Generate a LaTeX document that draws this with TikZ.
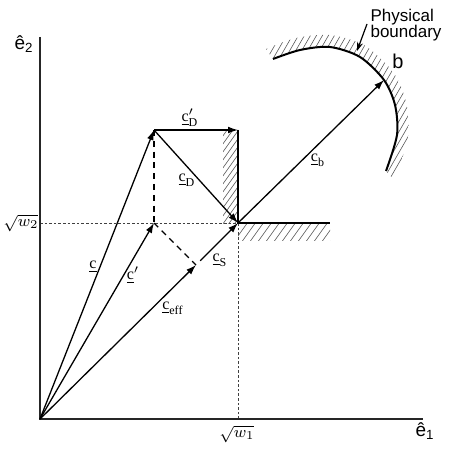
\documentclass[tikz,border=0pt]{standalone}
\usepackage{fontspec}
\setmainfont{Liberation Serif}
\newfontfamily\lsans{Liberation Sans}
\usetikzlibrary{arrows.meta}
\begin{document}
\begin{tikzpicture}[x=0.5pt,y=-0.5pt,
  axis/.style={line width=1.1pt, draw=black!85},
  vec/.style={line width=0.65pt, -{Latex[length=5pt,width=3.4pt]}},
  wall/.style={line width=1pt},
  constr/.style={line width=0.65pt, dash pattern=on 3pt off 2.4pt},
  guide/.style={line width=0.3pt, dash pattern=on 1.3pt off 1pt, draw=black!75},
  hatch/.style={line width=0.3pt, draw=black!65},
  lab/.style={font=\fontsize{8}{9}\selectfont, inner sep=0.5pt},
  rad/.style={font=\fontsize{8.5}{9}\selectfont, inner sep=0.5pt},
  unit/.style={font=\lsans\fontsize{9.5}{10}\selectfont, inner sep=0.5pt}
]
\useasboundingbox (0,0) rectangle (450,454);
% key points
\coordinate (O) at (40,419);
\coordinate (X) at (423,419);
\coordinate (Y) at (40,37);
\coordinate (P) at (154,130);
\coordinate (Q) at (238,130);
\coordinate (S) at (238,223);
\coordinate (Cp) at (154,223);
\coordinate (E) at (196,265);
\coordinate (B) at (384,80);
\coordinate (W2) at (40,223);
\coordinate (W1) at (238,419);
\coordinate (H) at (330,223);
% hatching of the walls
\begin{scope}
  \clip (223,130) rectangle (238,223);
  \foreach \c in {120,128,...,380} \draw[hatch] (200,\c) -- (300,\c-140);
\end{scope}
\begin{scope}
  \clip (238,223) rectangle (330,240);
  \foreach \c in {220,228,...,350} \draw[hatch] (\c,250) -- (\c+30,208);
\end{scope}
% hatching of the physical boundary
\begin{scope}
  \clip plot[smooth] coordinates {(273,59) (300,50) (330,47) (360,57) (384,80) (395,105) (397,135) (386,171)}
     -- plot[smooth] coordinates {(394,180) (408,138) (406,102) (393,72) (364,45) (330,35) (296,38) (266,49)} -- cycle;
  \foreach \c in {150,156,...,470} \draw[hatch] (\c,220) -- (\c+120,12);
\end{scope}
% guides
\draw[guide] (W2) -- (S);
\draw[guide] (W1) -- (S);
% axes
\draw[axis] (Y) -- (O) -- (X);
% walls
\draw[wall] (Q) -- (S) -- (H);
% boundary curve
\draw[line width=1pt] plot[smooth] coordinates {(273,59) (300,50) (330,47) (360,57) (384,80) (395,105) (397,135) (386,171)};
% construction lines
\draw[constr] (P) -- (Cp);
\draw[constr] (Cp) -- (E);
% vectors
\draw[vec] (O) -- (P);
\draw[vec] (O) -- (Cp);
\draw[vec] (O) -- (E);
\draw[vec, shorten <=3pt] (E) -- (S);
\draw[vec] (S) -- (B);
\draw[vec] (P) -- (S);
\draw[vec] (P) -- (Q);
% labels
\node[lab] (lcDp) at (190,118) {$\underline{\mathrm{c}}'_{\mathrm{D}}$};
\node[lab] (lcD) at (187,180) {$\underline{\mathrm{c}}_{\mathrm{D}}$};
\node[lab] (lcb) at (318,160) {$\underline{\mathrm{c}}_{\mathrm{b}}$};
\node[lab] (lcS) at (220,260) {$\underline{\mathrm{c}}_{\mathrm{S}}$};
\node[lab] (lcp) at (133,275) {$\underline{\mathrm{c}}'$};
\node[lab] (lc) at (93,267) {$\underline{\mathrm{c}}$};
\node[lab] (lceff) at (173,308) {$\underline{\mathrm{c}}_{\mathrm{eff}}$};
\node[rad] (lw2) at (21,223) {$\sqrt{w_2}$};
\node[rad] (lw1) at (237,434) {$\sqrt{w_1}$};
\node[unit] (le1) at (425,431) {ê\textsubscript{1}};
\node[unit] (le2) at (24,44) {ê\textsubscript{2}};
\node[font=\lsans\fontsize{8.5}{8.3}\selectfont, align=left, inner sep=0pt] (pb) at (406,25) {Physical\\boundary};
\node[font=\lsans\fontsize{10}{10}\selectfont, inner sep=0pt] (lb) at (398,61) {b};
\coordinate (pbt) at (367,24);
\coordinate (pbh) at (357,51);
\draw[line width=0.6pt, -{Stealth[length=4.5pt,width=3pt]}] (pbt) -- (pbh);
\end{tikzpicture}
\end{document}
